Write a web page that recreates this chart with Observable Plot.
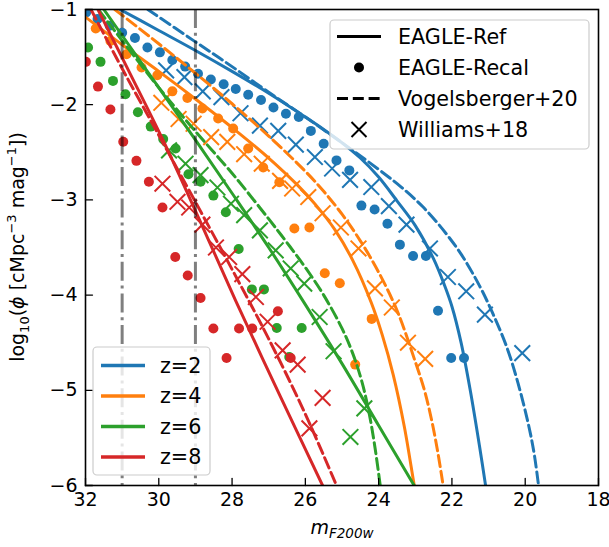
<!DOCTYPE html>
<html>
<head>
<meta charset="utf-8">
<script src="https://cdn.jsdelivr.net/npm/d3@7"></script>
<script src="https://cdn.jsdelivr.net/npm/@observablehq/plot@0.6"></script>
<style>
  body { margin: 0; background: #fff; }
  #chart { position: relative; width: 609px; height: 547px; }
  #chart svg { overflow: visible; }
</style>
</head>
<body>
<div id="chart"></div>
<script>
// ---------- categories / styling keys ----------
const redshifts = ["z=2", "z=4", "z=6", "z=8"];
const colors = ["#1f77b4", "#ff7f0e", "#2ca02c", "#d62728"];
const sourceLabels = ["EAGLE-Ref", "EAGLE-Recal", "Vogelsberger+20", "Williams+18"];

// ---------- axis ticks ----------
const xTicks = [32, 30, 28, 26, 24, 22, 20, 18];
const yTicks = [-6, -5, -4, -3, -2, -1];
const limitMags = [31, 29];

// ---------- EAGLE-Ref (solid lines): m_F200w, log10 phi ----------
const refM_z2 = [31.2, 30, 29, 28, 27, 26, 25.5, 25, 24.5, 24, 23.5, 23, 22.5, 22.2, 22.0, 21.75, 21.5, 21.25, 21.05];
const refPhi_z2 = [-0.97, -1.22, -1.43, -1.65, -1.88, -2.13, -2.26, -2.40, -2.56, -2.76, -3.01, -3.27, -3.62, -3.90, -4.12, -4.50, -5.0, -5.58, -6.08];
const refM_z4 = [32, 31, 30, 29, 28, 27, 26.2, 25.7, 25.2, 24.7, 24.2, 23.9, 23.6, 23.3, 23.05, 23.0];
const refPhi_z4 = [-1.08, -1.37, -1.65, -1.94, -2.24, -2.56, -2.85, -3.06, -3.31, -3.64, -4.08, -4.42, -4.84, -5.38, -5.95, -6.06];
const refM_z6 = [31.5, 30.0, 29.0, 28.0, 27.0, 26.0, 25.0, 24.0, 23.0];
const refPhi_z6 = [-1.0, -1.82, -2.37, -2.93, -3.5, -4.1, -4.72, -5.37, -6.02];
const refM_z8 = [31.66, 30.8, 29.9, 28.9, 27.9, 26.7, 25.53];
const refPhi_z8 = [-1.0, -1.66, -2.36, -3.2, -4.06, -5.05, -6.0];

// ---------- Vogelsberger+20 (dashed lines) ----------
const vogM_z2 = [30.3, 29, 28, 27, 26, 25, 24, 23.4, 22.8, 22.25, 21.75, 21.25, 20.9, 20.5, 20.2, 19.9, 19.75, 19.62];
const vogPhi_z2 = [-1.0, -1.34, -1.60, -1.87, -2.13, -2.40, -2.68, -2.86, -3.07, -3.31, -3.57, -3.90, -4.18, -4.55, -4.92, -5.38, -5.68, -6.05];
const vogM_z4 = [31.2, 30, 29, 28, 27, 26, 25.5, 25, 24.5, 24, 23.5, 23.0, 22.75, 22.55, 22.4, 22.28, 22.22];
const vogPhi_z4 = [-1.0, -1.36, -1.67, -1.99, -2.33, -2.70, -2.91, -3.15, -3.43, -3.76, -4.16, -4.70, -5.0, -5.32, -5.62, -5.9, -6.05];
const vogM_z6 = [31.65, 30, 29, 28, 27, 26.5, 26, 25.5, 25.0, 24.7, 24.45, 24.25, 24.1, 23.95];
const vogPhi_z6 = [-1.0, -1.82, -2.28, -2.72, -3.2, -3.45, -3.71, -4.0, -4.35, -4.62, -4.92, -5.26, -5.6, -6.02];
const vogM_z8 = [31.85, 31, 30, 29.13, 28, 27, 26, 25.15];
const vogPhi_z8 = [-1.0, -1.62, -2.32, -2.93, -3.73, -4.46, -5.25, -6.0];

// ---------- EAGLE-Recal (dots) ----------
const recM_z2 = [31.98, 31.67, 31.34, 31.0, 30.65, 30.31, 29.97, 29.63, 29.28, 28.93, 28.58, 28.23, 27.9, 27.56, 27.21, 26.87, 26.53, 26.18, 25.85, 25.5, 25.15, 24.8, 24.47, 24.11, 23.76, 23.42, 23.06, 22.71, 22.38, 22.02, 21.67];
const recPhi_z2 = [-1.03, -1.10, -1.17, -1.245, -1.30, -1.40, -1.45, -1.53, -1.60, -1.675, -1.735, -1.785, -1.835, -1.895, -1.95, -2.03, -2.095, -2.13, -2.275, -2.41, -2.585, -2.69, -3.06, -3.10, -3.25, -3.47, -3.59, -3.59, -4.165, -4.66, -4.66];
const recM_z4 = [31.72, 31.32, 30.88, 30.47, 30.04, 29.63, 29.22, 28.81, 28.38, 27.97, 27.56, 27.15, 26.71, 26.3, 25.89, 25.47, 25.06, 24.64, 24.19];
const recPhi_z4 = [-1.20, -1.33, -1.47, -1.61, -1.69, -1.86, -1.93, -2.04, -2.145, -2.25, -2.46, -2.66, -2.815, -3.30, -3.29, -3.77, -3.875, -4.73, -4.25];
const recM_z6 = [31.93, 31.59, 31.25, 30.91, 30.57, 30.22, 29.88, 29.54, 29.19, 28.86, 28.51, 28.17, 27.82, 27.46, 27.13, 26.78, 26.44, 26.1];
const recPhi_z6 = [-1.40, -1.55, -1.75, -1.89, -2.08, -2.23, -2.36, -2.46, -2.73, -2.81, -2.955, -3.13, -3.515, -3.94, -3.94, -4.345, -4.65, -4.345];
const recM_z8 = [31.99, 31.66, 31.32, 30.97, 30.61, 30.27, 29.9, 29.55, 29.21, 28.86, 28.51, 28.15, 27.81, 27.45, 26.75, 26.4];
const recPhi_z8 = [-1.55, -1.81, -2.05, -2.39, -2.59, -2.81, -3.08, -3.60, -3.795, -4.03, -4.35, -4.66, -4.35, -4.35, -4.17, -4.66];

// ---------- Williams+18 (crosses) ----------
const wilM_z2 = [29.8, 29.3, 28.8, 28.29, 27.77, 27.24, 26.74, 26.26, 25.74, 25.27, 24.78, 24.2, 23.72, 23.24, 22.6, 22.11, 21.61, 21.1, 20.08];
const wilPhi_z2 = [-1.64, -1.71, -1.86, -1.92, -2.09, -2.22, -2.275, -2.42, -2.55, -2.67, -2.79, -2.865, -3.065, -3.26, -3.51, -3.81, -3.96, -4.205, -4.61];
const wilM_z4 = [29.93, 29.46, 29.05, 28.57, 28.13, 27.67, 27.19, 26.69, 26.36, 25.92, 25.53, 25.03, 24.55, 24.1, 23.64, 23.2, 22.73];
const wilPhi_z4 = [-1.98, -2.15, -2.20, -2.34, -2.39, -2.52, -2.62, -2.80, -2.88, -2.97, -3.14, -3.29, -3.51, -3.93, -4.13, -4.5, -4.67];
const wilM_z6 = [29.72, 29.27, 28.86, 28.4, 28.03, 27.67, 27.24, 26.81, 26.4, 26.03, 25.61, 25.23, 24.77, 24.39];
const wilPhi_z6 = [-2.48, -2.62, -2.74, -2.87, -3.04, -3.16, -3.32, -3.53, -3.72, -3.88, -4.23, -4.59, -5.49, -5.19];
const wilM_z8 = [29.9, 29.49, 29.17, 28.81, 28.44, 28.08, 27.72, 27.35, 27.03, 26.62, 26.21, 25.89, 25.53];
const wilPhi_z8 = [-2.83, -3.02, -3.08, -3.26, -3.50, -3.60, -3.78, -4.02, -4.28, -4.58, -4.73, -5.40, -5.08];

// ---------- assemble tables ----------
function rows(ms, phis, z) { return ms.map((m, i) => ({m, phi: phis[i], z})); }
const refRows = [].concat(rows(refM_z2, refPhi_z2, "z=2"), rows(refM_z4, refPhi_z4, "z=4"), rows(refM_z6, refPhi_z6, "z=6"), rows(refM_z8, refPhi_z8, "z=8"));
const vogRows = [].concat(rows(vogM_z2, vogPhi_z2, "z=2"), rows(vogM_z4, vogPhi_z4, "z=4"), rows(vogM_z6, vogPhi_z6, "z=6"), rows(vogM_z8, vogPhi_z8, "z=8"));
const recRows = [].concat(rows(recM_z2, recPhi_z2, "z=2"), rows(recM_z4, recPhi_z4, "z=4"), rows(recM_z6, recPhi_z6, "z=6"), rows(recM_z8, recPhi_z8, "z=8"));
const wilRows = [].concat(rows(wilM_z2, wilPhi_z2, "z=2"), rows(wilM_z4, wilPhi_z4, "z=4"), rows(wilM_z6, wilPhi_z6, "z=6"), rows(wilM_z8, wilPhi_z8, "z=8"));

const tickShape = { draw(context, l) { context.moveTo(0, 0); context.lineTo(0, -l); } };
const DASH = "11,4.8";
const fmtInt = d => (d < 0 ? "\u2212" : "") + Math.abs(d);

const marks = [];
redshifts.forEach((z) => {
  marks.push(Plot.line(refRows.filter(d => d.z === z), {x: "m", y: "phi", stroke: "z", strokeWidth: 3, curve: "catmull-rom", clip: true}));
  marks.push(Plot.dot(recRows.filter(d => d.z === z), {x: "m", y: "phi", fill: "z", r: 5, stroke: null, clip: true}));
  marks.push(Plot.line(vogRows.filter(d => d.z === z), {x: "m", y: "phi", stroke: "z", strokeWidth: 3, strokeDasharray: DASH, curve: "catmull-rom", clip: true}));
  marks.push(Plot.dot(wilRows.filter(d => d.z === z), {x: "m", y: "phi", stroke: "z", symbol: "times", r: 7.2, strokeWidth: 2, clip: true}));
});
marks.push(Plot.ruleX(limitMags, {x: d => d, stroke: "black", strokeOpacity: 0.5, strokeWidth: 3, strokeDasharray: "19,4.8,3,4.8"}));
marks.push(Plot.vector(xTicks, {x: d => d, frameAnchor: "bottom", length: 7, rotate: 0, anchor: "start", shape: tickShape, stroke: "black", strokeWidth: 1.3}));
marks.push(Plot.vector(yTicks, {y: d => d, frameAnchor: "left", length: 7, rotate: 90, anchor: "start", shape: tickShape, stroke: "black", strokeWidth: 1.3}));
marks.push(Plot.axisX({ticks: xTicks, tickSize: 0, tickPadding: 7, label: null, tickFormat: fmtInt}));
marks.push(Plot.axisY({ticks: yTicks, tickSize: 0, tickPadding: 8, label: null, tickFormat: fmtInt}));
marks.push(Plot.frame({stroke: "black", strokeWidth: 1.6}));

const chart = Plot.plot({
  width: 609,
  height: 547,
  marginLeft: 85,
  marginRight: 11,
  marginTop: 9,
  marginBottom: 62,
  style: {fontFamily: "DejaVu Sans", fontSize: "19px", background: "#fff", color: "black", overflow: "visible"},
  x: {domain: [32, 18], ticks: xTicks},
  y: {domain: [-6, -1], ticks: yTicks},
  color: {domain: redshifts, range: colors},
  marks
});
document.getElementById("chart").appendChild(chart);

// ---------- labels & in-axes legends ----------
const svg = d3.select(chart);
const fam = "DejaVu Sans";
const LEG_FS = 20.7;

// y label
const yl = svg.append("text")
  .attr("transform", "translate(24,247) rotate(-90)")
  .attr("text-anchor", "middle")
  .attr("font-family", fam).attr("font-size", 19).attr("fill", "black");
yl.append("tspan").text("log");
yl.append("tspan").attr("font-size", 13).attr("dy", 5).text("10");
yl.append("tspan").attr("dy", -5).text("(");
yl.append("tspan").attr("font-style", "italic").text("ϕ");
yl.append("tspan").text(" [cMpc");
yl.append("tspan").attr("font-size", 13).attr("dy", -8).text("−3");
yl.append("tspan").attr("dy", 8).text(" mag");
yl.append("tspan").attr("font-size", 13).attr("dy", -8).text("−1");
yl.append("tspan").attr("dy", 8).text("])");

// x label
const xl = svg.append("text")
  .attr("x", 342).attr("y", 534)
  .attr("text-anchor", "middle")
  .attr("font-family", fam).attr("font-size", 19).attr("fill", "black");
xl.append("tspan").attr("font-style", "italic").text("m");
xl.append("tspan").attr("font-style", "italic").attr("font-size", 13.5).attr("dy", 4).text("F200w");

// legend: data sources
const g1 = svg.append("g");
g1.append("rect").attr("x", 330).attr("y", 20).attr("width", 259).attr("height", 129).attr("rx", 4)
  .attr("fill", "white").attr("fill-opacity", 0.8).attr("stroke", "#cccccc").attr("stroke-width", 1.2);
const r1 = [36.5, 67.5, 98.5, 129.5];
g1.append("line").attr("x1", 337).attr("x2", 381).attr("y1", r1[0]).attr("y2", r1[0]).attr("stroke", "black").attr("stroke-width", 3);
g1.append("circle").attr("cx", 359).attr("cy", r1[1]).attr("r", 5).attr("fill", "black");
g1.append("line").attr("x1", 337).attr("x2", 381).attr("y1", r1[2]).attr("y2", r1[2]).attr("stroke", "black").attr("stroke-width", 3).attr("stroke-dasharray", DASH);
g1.append("path").attr("d", `M${359-7.5},${r1[3]-7.5}L${359+7.5},${r1[3]+7.5}M${359-7.5},${r1[3]+7.5}L${359+7.5},${r1[3]-7.5}`).attr("stroke", "black").attr("stroke-width", 2);
sourceLabels.forEach((t, i) => {
  g1.append("text").attr("x", 398).attr("y", r1[i]).attr("dy", "0.36em").attr("text-anchor", "start")
    .attr("font-family", fam).attr("font-size", LEG_FS).attr("fill", "black").text(t);
});

// legend: redshifts
const g2 = svg.append("g");
g2.append("rect").attr("x", 93).attr("y", 347).attr("width", 117).attr("height", 128).attr("rx", 4)
  .attr("fill", "white").attr("fill-opacity", 0.8).attr("stroke", "#cccccc").attr("stroke-width", 1.2);
const r2 = [365.5, 396, 426.5, 457];
redshifts.forEach((z, i) => {
  g2.append("line").attr("x1", 101).attr("x2", 145).attr("y1", r2[i]).attr("y2", r2[i]).attr("stroke", colors[i]).attr("stroke-width", 3.5);
  g2.append("text").attr("x", 160).attr("y", r2[i]).attr("dy", "0.36em").attr("text-anchor", "start")
    .attr("font-family", fam).attr("font-size", LEG_FS).attr("fill", "black").text(z);
});
</script>
</body>
</html>
